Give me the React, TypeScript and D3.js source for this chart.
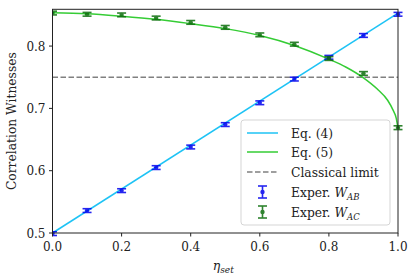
import React from 'react';
import * as d3 from 'd3';

// measured points
const etaSet = [0, 0.1, 0.2, 0.3, 0.4, 0.5, 0.6, 0.7, 0.8, 0.9, 1.0];
const wAB = [0.499, 0.536, 0.568, 0.605, 0.638, 0.674, 0.709, 0.747, 0.782, 0.817, 0.851];
const wABErr = [0.003, 0.003, 0.003, 0.003, 0.003, 0.003, 0.003, 0.003, 0.003, 0.003, 0.003];
const wAC = [0.853, 0.851, 0.850, 0.845, 0.838, 0.830, 0.818, 0.803, 0.780, 0.756, 0.669];
const wACErr = [0.003, 0.003, 0.003, 0.003, 0.003, 0.003, 0.003, 0.003, 0.003, 0.003, 0.003];

// theory curves
const eq4Eta = [0, 1];
const eq4Val = [0.5, 0.853];
const eq5Eta = [0, 0.1, 0.2, 0.3, 0.4, 0.5, 0.6, 0.7, 0.8, 0.85, 0.9, 0.94, 0.97, 0.985, 0.995, 1.0];
const eq5Val = [0.8536, 0.852, 0.848, 0.843, 0.836, 0.828, 0.817, 0.801, 0.779, 0.766, 0.749, 0.731, 0.713, 0.698, 0.684, 0.668];

const classicalLimit = 0.75;
const xTicks = [0, 0.2, 0.4, 0.6, 0.8, 1.0];
const yTicks = [0.5, 0.6, 0.7, 0.8];

const W = 415;
const H = 280;
const left = 52.5, right = 398, top = 9.3, bottom = 233;
const font = '"DejaVu Serif", serif';
const blue = '#0000ee';
const green = '#0b6e0b';

function ErrPoint({ x, y, y0, y1, color }: { x: number; y: number; y0: number; y1: number; color: string }) {
    return (
        <g stroke={color} strokeWidth={1.6} opacity={0.85}>
            <line x1={x} x2={x} y1={y0} y2={y1} />
            <line x1={x - 4.5} x2={x + 4.5} y1={y0} y2={y0} />
            <line x1={x - 4.5} x2={x + 4.5} y1={y1} y2={y1} />
            <circle cx={x} cy={y} r={2.2} fill={color} stroke="none" />
        </g>
    );
}

export default function App() {
    const x = d3.scaleLinear().domain([0, 1]).range([left, right]);
    const y = d3.scaleLinear().domain([0.5, 0.859]).range([bottom, top]);

    const line = d3.line<[number, number]>()
        .x(d => x(d[0]))
        .y(d => y(d[1]));
    const curve = d3.line<[number, number]>()
        .x(d => x(d[0]))
        .y(d => y(d[1]))
        .curve(d3.curveMonotoneX);

    const eq4 = eq4Eta.map((e, i) => [e, eq4Val[i]] as [number, number]);
    const eq5 = eq5Eta.map((e, i) => [e, eq5Val[i]] as [number, number]);
    const fmt = d3.format('.1f');

    // legend
    const lgX = 241, lgY = 120, lgW = 149, lgH = 105;
    const hx0 = 247, hx1 = 278, tx = 291;
    const rows = [133, 152, 172, 192, 212];
    const lfs = 12.3;

    return (
        <svg width={W} height={H} style={{ position: 'absolute', left: 0, top: 0, background: '#fff' }}
            fontFamily={font}>
            <defs>
                <clipPath id="plot">
                    <rect x={left} y={top - 6} width={right - left + 6} height={bottom - top + 12} />
                </clipPath>
            </defs>

            {/* classical limit */}
            <line x1={x(0)} x2={x(1)} y1={y(classicalLimit)} y2={y(classicalLimit)}
                stroke="#808080" strokeWidth={1.5} strokeDasharray="5.5,2.5" />

            {/* theory */}
            <path d={line(eq4) || ''} fill="none" stroke="#1ec3f5" strokeWidth={1.5} />
            <path d={curve(eq5) || ''} fill="none" stroke="#35cc35" strokeWidth={1.5} />

            {/* experiment */}
            <g clipPath="url(#plot)">
                {etaSet.map((e, i) => (
                    <ErrPoint key={'ab' + i} x={x(e)} y={y(wAB[i])}
                        y0={y(wAB[i] + wABErr[i])} y1={y(wAB[i] - wABErr[i])} color={blue} />
                ))}
                {etaSet.map((e, i) => (
                    <ErrPoint key={'ac' + i} x={x(e)} y={y(wAC[i])}
                        y0={y(wAC[i] + wACErr[i])} y1={y(wAC[i] - wACErr[i])} color={green} />
                ))}
            </g>

            {/* axes box */}
            <rect x={left} y={top} width={right - left} height={bottom - top} fill="none" stroke="#222" strokeWidth={1} />

            {/* x ticks */}
            {xTicks.map(t => (
                <g key={'x' + t}>
                    <line x1={x(t)} x2={x(t)} y1={bottom} y2={bottom + 3.5} stroke="#222" />
                    <text x={x(t)} y={bottom + 18} textAnchor="middle" fontSize={12} fill="#222">{fmt(t)}</text>
                </g>
            ))}
            {/* y ticks */}
            {yTicks.map(t => (
                <g key={'y' + t}>
                    <line x1={left - 3.5} x2={left} y1={y(t)} y2={y(t)} stroke="#222" />
                    <text x={left - 7} y={y(t) + 4.5} textAnchor="end" fontSize={12} fill="#222">{fmt(t)}</text>
                </g>
            ))}

            {/* axis labels */}
            <text x={(left + right) / 2 - 2} y={270} textAnchor="middle" fontSize={12.5} fill="#222" fontStyle="italic">
                η<tspan fontSize={9} dy={3}>set</tspan>
            </text>
            <text transform={`translate(16, ${(top + bottom) / 2}) rotate(-90)`} textAnchor="middle"
                fontSize={12.3} fill="#222">Correlation Witnesses</text>

            {/* legend */}
            <rect x={lgX} y={lgY} width={lgW} height={lgH} rx={3} fill="#fff" fillOpacity={0.85}
                stroke="#d5d5d5" strokeWidth={1} />
            <line x1={hx0} x2={hx1} y1={rows[0]} y2={rows[0]} stroke="#1ec3f5" strokeWidth={1.5} />
            <text x={tx} y={rows[0] + 4.5} fontSize={lfs} fill="#222">Eq. (4)</text>
            <line x1={hx0} x2={hx1} y1={rows[1]} y2={rows[1]} stroke="#35cc35" strokeWidth={1.5} />
            <text x={tx} y={rows[1] + 4.5} fontSize={lfs} fill="#222">Eq. (5)</text>
            <line x1={hx0} x2={hx1} y1={rows[2]} y2={rows[2]} stroke="#808080" strokeWidth={1.5} strokeDasharray="5.5,2.5" />
            <text x={tx} y={rows[2] + 4.5} fontSize={lfs} fill="#222">Classical limit</text>
            <ErrPoint x={(hx0 + hx1) / 2} y={rows[3]} y0={rows[3] - 6} y1={rows[3] + 6} color={blue} />
            <text x={tx} y={rows[3] + 4.5} fontSize={lfs} fill="#222">
                Exper. <tspan fontStyle="italic">W</tspan><tspan fontStyle="italic" fontSize={8.5} dy={3}>AB</tspan>
            </text>
            <ErrPoint x={(hx0 + hx1) / 2} y={rows[4]} y0={rows[4] - 6} y1={rows[4] + 6} color={green} />
            <text x={tx} y={rows[4] + 4.5} fontSize={lfs} fill="#222">
                Exper. <tspan fontStyle="italic">W</tspan><tspan fontStyle="italic" fontSize={8.5} dy={3}>AC</tspan>
            </text>
        </svg>
    );
}
